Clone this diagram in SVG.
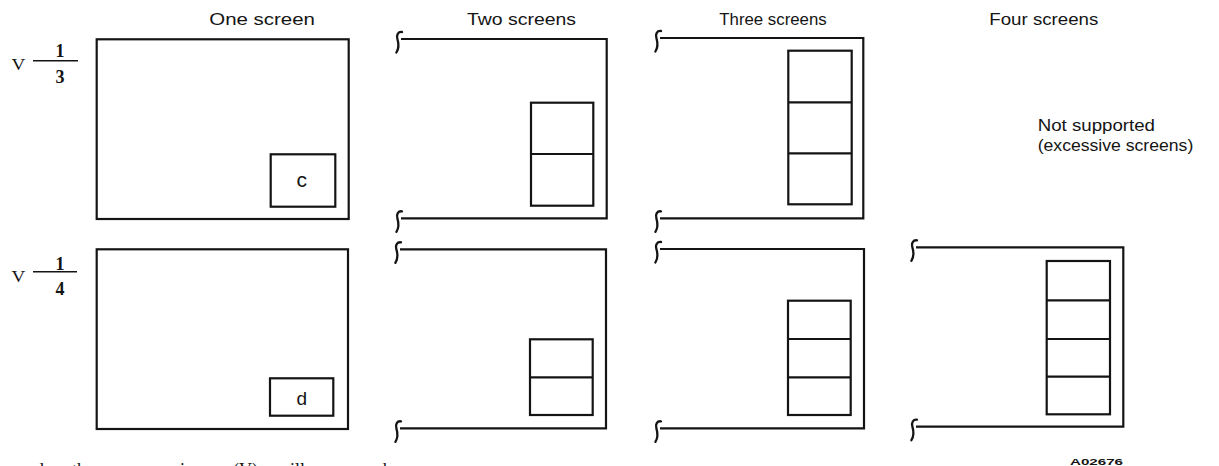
<svg xmlns="http://www.w3.org/2000/svg" xmlns:xlink="http://www.w3.org/1999/xlink" width="1219" height="466" viewBox="0 0 1219 466">
<style>
.frame{fill:none;stroke:#141414;stroke-width:2.2;stroke-linejoin:miter}
.inner{fill:none;stroke:#141414;stroke-width:2.2}
.brace{fill:none;stroke:#141414;stroke-width:2.3;stroke-linecap:round}
.lbl{font-family:"Liberation Sans",Arial,Helvetica,sans-serif;font-size:16px;fill:#141414}
.math{font-family:"Liberation Serif","Times New Roman",serif;font-size:18px;font-weight:bold;fill:#141414}
.code{font-family:"Liberation Sans",Arial,sans-serif;font-size:9.5px;font-weight:bold;fill:#141414}
.body{font-family:"Liberation Serif","Times New Roman",serif;font-size:18px;fill:#141414}
</style>
<defs>
<path id="brace" class="brace" d="M 4 -7 C 0 -7.5 -1.8 -4 -0.6 0 C 0.6 4 1.6 8.5 -1.6 13.5"/>
</defs>
<rect width="1219" height="466" fill="#ffffff"/>

<g id="column-labels">
<text class="lbl" x="209.3" y="25" textLength="105.7" lengthAdjust="spacingAndGlyphs">One screen</text>
<text class="lbl" x="467" y="25" textLength="109" lengthAdjust="spacingAndGlyphs">Two screens</text>
<text class="lbl" x="719.3" y="25" textLength="107.4" lengthAdjust="spacingAndGlyphs">Three screens</text>
<text class="lbl" x="989.3" y="25" textLength="109" lengthAdjust="spacingAndGlyphs">Four screens</text>
</g>

<g id="row-v13-label">
<text class="math" x="11.5" y="69.5" textLength="13.8" lengthAdjust="spacingAndGlyphs" style="font-weight:normal;font-size:17px">V</text>
<line x1="33" y1="60.7" x2="78" y2="60.7" stroke="#141414" stroke-width="1.5"/>
<text class="math" x="60" y="57.3" text-anchor="middle">1</text>
<text class="math" x="60" y="82.5" text-anchor="middle">3</text>
</g>

<g id="row-v14-label">
<text class="math" x="11.5" y="281.5" textLength="13.8" lengthAdjust="spacingAndGlyphs" style="font-weight:normal;font-size:17px">V</text>
<line x1="33" y1="271.7" x2="77" y2="271.7" stroke="#141414" stroke-width="1.5"/>
<text class="math" x="60" y="269.5" text-anchor="middle">1</text>
<text class="math" x="60" y="295.3" text-anchor="middle">4</text>
</g>

<g id="v13-one-screen">
<rect class="frame" x="96.7" y="39.3" width="252" height="179.7"/>
<rect class="inner" x="270.7" y="154.3" width="64.6" height="52.4"/>
<text class="lbl" x="301.7" y="187.3" text-anchor="middle" style="font-size:21px">c</text>
</g>

<g id="v13-two-screens">
<path class="frame" d="M 401 39 H 606.7 V 218.3 H 401"/>
<use xlink:href="#brace" x="398" y="39"/>
<use xlink:href="#brace" x="398" y="218.3"/>
<rect class="inner" x="531" y="102.7" width="62.3" height="103"/>
<line class="inner" x1="531" y1="154" x2="593.3" y2="154"/>
</g>

<g id="v13-three-screens">
<path class="frame" d="M 660 38 H 863.3 V 218.3 H 660"/>
<use xlink:href="#brace" x="657" y="38"/>
<use xlink:href="#brace" x="657" y="218.3"/>
<rect class="inner" x="788.3" y="50.7" width="63.4" height="153.6"/>
<line class="inner" x1="788.3" y1="102.3" x2="851.7" y2="102.3"/>
<line class="inner" x1="788.3" y1="153.3" x2="851.7" y2="153.3"/>
</g>

<g id="v13-four-screens">
<text class="lbl" x="1037.7" y="130.7" textLength="117.3" lengthAdjust="spacingAndGlyphs">Not supported</text>
<text class="lbl" x="1037.7" y="151" textLength="155.6" lengthAdjust="spacingAndGlyphs">(excessive screens)</text>
</g>

<g id="v14-one-screen">
<rect class="frame" x="96.7" y="249.3" width="251.3" height="179.7"/>
<rect class="inner" x="270" y="378.3" width="63.3" height="37.4"/>
<text class="lbl" x="301.7" y="405" text-anchor="middle" style="font-size:19px">d</text>
</g>

<g id="v14-two-screens">
<path class="frame" d="M 400 249.3 H 606 V 428.3 H 400"/>
<use xlink:href="#brace" x="397" y="249.3"/>
<use xlink:href="#brace" x="397" y="428.3"/>
<rect class="inner" x="530" y="339.3" width="62.7" height="75.7"/>
<line class="inner" x1="530" y1="377.3" x2="592.7" y2="377.3"/>
</g>

<g id="v14-three-screens">
<path class="frame" d="M 660 249 H 864 V 428.3 H 660"/>
<use xlink:href="#brace" x="657" y="249"/>
<use xlink:href="#brace" x="657" y="428.3"/>
<rect class="inner" x="788" y="300.7" width="62.7" height="114.3"/>
<line class="inner" x1="788" y1="339" x2="850.7" y2="339"/>
<line class="inner" x1="788" y1="377.3" x2="850.7" y2="377.3"/>
</g>

<g id="v14-four-screens">
<path class="frame" d="M 916 247.3 H 1123.3 V 426.7 H 916"/>
<use xlink:href="#brace" x="913" y="247.3"/>
<use xlink:href="#brace" x="913" y="426.7"/>
<rect class="inner" x="1046.7" y="261" width="63.3" height="153.3"/>
<line class="inner" x1="1046.7" y1="300.3" x2="1110" y2="300.3"/>
<line class="inner" x1="1046.7" y1="339" x2="1110" y2="339"/>
<line class="inner" x1="1046.7" y1="376.7" x2="1110" y2="376.7"/>
</g>

<g id="connectors"></g>

<g id="annotations">
<text class="code" x="1070" y="464.5" textLength="53" lengthAdjust="spacingAndGlyphs">A02676</text>
<text class="body" y="475.5"><tspan x="26">nd</tspan><tspan x="72">the</tspan><tspan x="122">screen</tspan><tspan x="180">in</tspan><tspan x="233">(V)</tspan><tspan x="277">will</tspan><tspan x="383">be</tspan></text>
</g>
</svg>
